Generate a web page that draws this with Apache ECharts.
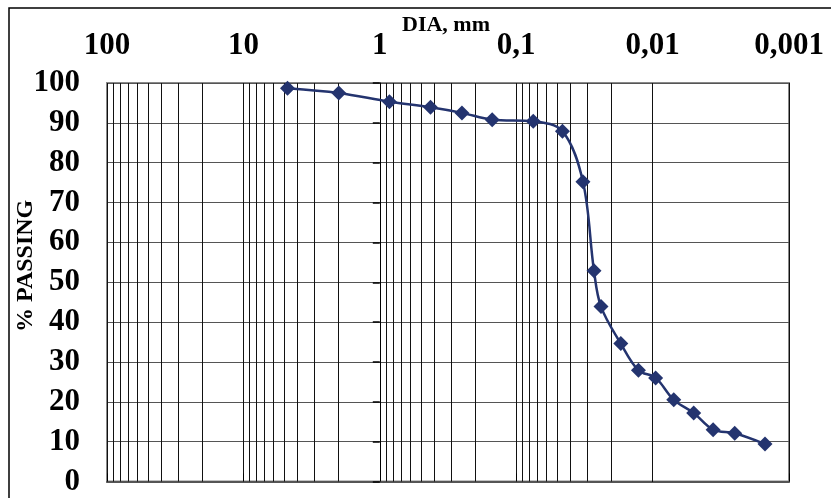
<!DOCTYPE html>
<html><head><meta charset="utf-8">
<script src="https://cdn.jsdelivr.net/npm/echarts@6/dist/echarts.min.js"></script>
<style>html,body{margin:0;padding:0;background:#fff}#c{width:831px;height:498px}</style>
</head><body><div id="c"></div>
<script>
// Grain size (mm) and % passing
var diameters = [4.75, 2.0, 0.85, 0.425, 0.25, 0.15, 0.075, 0.0458, 0.0324, 0.0269, 0.0239, 0.0171, 0.0127, 0.0095, 0.0070, 0.0050, 0.0036, 0.0025, 0.0015];
var passing   = [98.7, 97.5, 95.3, 93.9, 92.5, 90.8, 90.4, 87.9, 75.2, 52.9, 43.9, 34.6, 27.9, 26.0, 20.5, 17.2, 13.0, 12.1, 9.4];
var xTickLabels = ['100', '10', '1', '0,1', '0,01', '0,001'];
var xMin = 0.001, xMax = 100;
var yMin = 0, yMax = 100, yStep = 10;

var FONT = 'Liberation Serif';
var points = diameters.map(function (d, i) { return [d, passing[i]]; });

// minor log grid values (2..9 x 10^k)
var minorVals = [];
for (var k = -3; k <= 1; k++) {
  for (var m = 2; m <= 9; m++) minorVals.push(Number((m * Math.pow(10, k)).toPrecision(3)));
}

function fmtX(v) {
  var n = Number(Number(v).toPrecision(6));
  return String(n).replace('.', ',');
}

var chart = echarts.init(document.getElementById('c'), null, {renderer: 'canvas'});
var option = {
  animation: false,
  backgroundColor: '#fff',
  grid: { left: 107, top: 83, width: 682, height: 398.5, show: true, borderColor: '#888', borderWidth: 2, containLabel: false },
  graphic: [
    { type: 'rect', shape: { x: 9, y: 8, width: 900, height: 600 }, style: { fill: 'none', stroke: '#000', lineWidth: 1.5 }, z: 0 },
    { type: 'text', x: 402, y: 14, style: { text: 'DIA, mm', font: 'bold 22px "Liberation Serif"', fill: '#000' } },
    { type: 'text', x: 14, y: 332, rotation: Math.PI / 2, style: { text: '% PASSING', font: 'bold 24px "Liberation Serif"', fill: '#000' } }
  ],
  xAxis: {
    type: 'log', logBase: 10, min: xMin, max: xMax, inverse: true, position: 'top',
    axisLine: { show: true, lineStyle: { color: '#555', width: 2 } },
    axisTick: { show: true, length: 8, lineStyle: { color: '#000', width: 1 } },
    axisLabel: { show: true, margin: 22, fontFamily: FONT, fontWeight: 'bold', fontSize: 31, color: '#000',
      formatter: function (v) {
        var idx = Math.round(Math.log10(xMax) - Math.log10(v));
        return xTickLabels[idx] !== undefined ? xTickLabels[idx] : fmtX(v);
      } },
    splitLine: { show: true, lineStyle: { color: '#111', width: 1 } }
  },
  yAxis: [
    {
      type: 'value', min: yMin, max: yMax, interval: yStep, position: 'left',
      axisLine: { show: false }, axisTick: { show: false },
      axisLabel: { margin: 27, fontFamily: FONT, fontWeight: 'bold', fontSize: 31, color: '#000' },
      splitLine: { show: true, lineStyle: { color: '#555', width: 1 } }
    },
    {
      type: 'value', min: yMin, max: yMax, interval: yStep, position: 'left', offset: 0,
      axisLine: { show: true, lineStyle: { color: '#000', width: 1 } },
      axisTick: { show: true, length: 7, lineStyle: { color: '#000', width: 1.5 } },
      axisLabel: { show: false }, splitLine: { show: false }
    }
  ],
  series: [
    {
      type: 'line', data: [], z: 1, silent: true,
      markLine: {
        silent: true, symbol: ['none', 'none'], label: { show: false }, z: 1, animation: false,
        lineStyle: { color: '#111', width: 1, type: 'solid' },
        emphasis: { disabled: true },
        data: minorVals.map(function (v) { return { xAxis: v }; })
      }
    },
    {
      type: 'line', data: points, z: 5, smooth: 0.35,
      symbol: 'diamond', symbolSize: 15,
      lineStyle: { color: '#24346f', width: 2.5 },
      itemStyle: { color: '#24346f' }
    }
  ]
};
chart.setOption(option);
// place the crossing value axis at x = 1 (Excel style)
var pxAt1 = chart.convertToPixel({ xAxisIndex: 0 }, 1);
chart.setOption({ yAxis: [{}, { offset: -(pxAt1 - 107) }] });
</script>
</body></html>
